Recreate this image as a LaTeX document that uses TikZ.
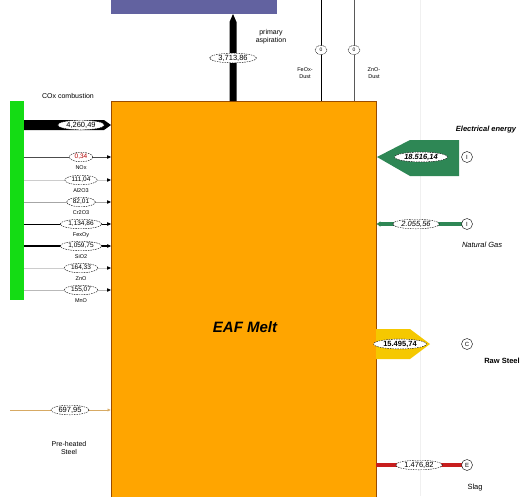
\documentclass[tikz,border=0pt]{standalone}
\usepackage{fontspec}
\setmainfont{Liberation Sans}
\usetikzlibrary{shapes.geometric,arrows.meta}
\definecolor{eaforange}{RGB}{255,165,0}
\definecolor{barblue}{RGB}{98,98,160}
\definecolor{bargreen}{RGB}{20,220,20}
\definecolor{elgreen}{RGB}{46,135,85}
\definecolor{steelyellow}{RGB}{245,200,0}
\definecolor{slagred}{RGB}{200,30,30}
\definecolor{pretan}{RGB}{215,170,100}
\begin{document}
\begin{tikzpicture}[x=1pt,y=-1pt,
  val/.style={ellipse, draw, dash pattern=on 1.5pt off 1pt, fill=white, inner xsep=2pt, inner ysep=0.3pt, minimum height=9.5pt, font=\fontsize{7.5}{8}\selectfont},
  tagc/.style={circle, draw, fill=white, inner sep=0pt, minimum size=11pt, font=\fontsize{6}{6}\selectfont},
  lbl/.style={font=\fontsize{6.5}{7.5}\selectfont, align=center, inner sep=0pt},
  inarrow/.style={-{Latex[length=3.5pt,width=3.5pt]}}]
\useasboundingbox (0,0) rectangle (524,496);
% faint grid line
\draw[gray!12] (420,0) -- (420,496);
% bars
\node[fill=barblue, minimum width=166pt, minimum height=14pt, anchor=north west, inner sep=0pt] (blue) at (111,0) {};
\node[fill=bargreen, minimum width=14pt, minimum height=199pt, anchor=north west, inner sep=0pt] (green) at (10,101) {};
\node[fill=eaforange, draw=orange!60!black, line width=0.4pt, minimum width=265pt, minimum height=400pt, anchor=north west, inner sep=0pt] (eaf) at (111,101) {};
\node[font=\fontsize{15}{16}\selectfont\bfseries\itshape] (eaflbl) at (245,327) {EAF Melt};
% primary aspiration
\fill (229.5,101) -- (229.5,22) -- (233,14) -- (236.5,22) -- (236.5,101) -- cycle;
\node[val] (v-asp) at (233,58) {3,713,86};
\node[lbl, font=\fontsize{7}{8}\selectfont] (l-asp) at (271,37) {primary\\aspiration};
% dust lines
\coordinate (fe-top) at (321,0);
\coordinate (zn-top) at (354,0);
\draw[line width=0.6pt] (fe-top) -- (eaf.north -| fe-top);
\draw[line width=0.6pt, gray!70!black] (zn-top) -- (eaf.north -| zn-top);
\node[tagc, ellipse, minimum width=12pt, minimum height=9pt, dash pattern=on 1pt off 0.7pt, font=\fontsize{5}{5}\selectfont] (t-fe) at (321,50) {0};
\node[tagc, ellipse, minimum width=12pt, minimum height=9pt, dash pattern=on 1pt off 0.7pt, font=\fontsize{5}{5}\selectfont] (t-zn) at (354,50) {0};
\node[lbl, font=\fontsize{5.5}{6.5}\selectfont] (l-fe) at (305,73) {FeOx-\\Dust};
\node[lbl, font=\fontsize{5.5}{6.5}\selectfont] (l-zn) at (374,73) {ZnO-\\Dust};
% COx combustion
\node[lbl, font=\fontsize{7}{8}\selectfont] (l-cox) at (68,96) {COx combustion};
\fill (24,120) -- (104,120) -- (111,125) -- (104,130) -- (24,130) -- cycle;
\node[val] (v-cox) at (81,125) {4,260,49};
% thin inputs
\foreach \y/\n/\c/\w/\nm in {157/NOx/gray!60!black/0.7/nox,
  180/Al2O3/gray!40/0.5/al,
  202/Cr2O3/gray!70/0.7/cr,
  224/FexOy/black/1.0/fe,
  246/SiO2/black/1.3/si,
  268/ZnO/gray!40/0.5/zn,
  290/MnO/gray!55/0.6/mn}{
  \coordinate (s-\nm) at (24,\y);
  \draw[inarrow, draw=\c, line width=\w pt] (s-\nm) -- (eaf.west |- s-\nm);
  \fill (eaf.west |- s-\nm) -- ++(-4,-1.8) -- ++(0,3.6) -- cycle;
  \node[lbl, font=\fontsize{5.5}{6.5}\selectfont] (l-\nm) at (81,\y+11) {\n};
}
\node[val, font=\fontsize{6.5}{7}\selectfont, text=red!70!black] (v-nox) at (81,157) {0,34};
\node[val, font=\fontsize{6.5}{7}\selectfont] (v-al) at (81,180) {111,04};
\node[val, font=\fontsize{6.5}{7}\selectfont] (v-cr) at (81,202) {82,01};
\node[val, font=\fontsize{6.5}{7}\selectfont] (v-fe) at (81,224) {1,134,86};
\node[val, font=\fontsize{6.5}{7}\selectfont] (v-si) at (81,246) {1,059,75};
\node[val, font=\fontsize{6.5}{7}\selectfont] (v-zn) at (81,268) {164,33};
\node[val, font=\fontsize{6.5}{7}\selectfont] (v-mn) at (81,290) {155,07};
% pre-heated steel
\coordinate (s-pre) at (10,410);
\draw[inarrow, draw=pretan, line width=0.9pt] (s-pre) -- (eaf.west |- s-pre);
\node[val] (v-pre) at (70,410) {697,95};
\node[lbl, font=\fontsize{7}{8}\selectfont] (l-pre) at (69,448) {Pre-heated\\Steel};
% electrical energy
\fill[elgreen] (377,157) -- (410,140) -- (459,140) -- (459,176) -- (410,176) -- cycle;
\node[val, font=\fontsize{7.5}{8}\selectfont\bfseries\itshape] (v-el) at (421,157) {18.516,14};
\node[tagc] (t-el) at (467,157) {I};
\node[lbl, font=\fontsize{7.5}{8}\selectfont\bfseries\itshape] (l-el) at (486,130) {Electrical energy};
% natural gas
\coordinate (s-gas) at (462,224);
\draw[elgreen, line width=3.5pt, -{Latex[length=4pt,width=6pt]}] (s-gas) -- (eaf.east |- s-gas);
\node[val, font=\fontsize{7.5}{8}\selectfont\itshape] (v-gas) at (416,224) {2.055,56};
\node[tagc] (t-gas) at (467,224) {I};
\node[lbl, font=\fontsize{7.5}{8}\selectfont\itshape] (l-gas) at (482,245) {Natural Gas};
% raw steel
\fill[steelyellow] (376,329) -- (410,329) -- (430,344) -- (410,359) -- (376,359) -- cycle;
\node[val, font=\fontsize{7.5}{8}\selectfont\bfseries] (v-raw) at (400,344) {15.495,74};
\node[tagc] (t-raw) at (467,344) {C};
\node[lbl, font=\fontsize{7.5}{8}\selectfont\bfseries] (l-raw) at (502,361) {Raw Steel};
% slag
\coordinate (e-slag) at (462,465);
\draw[slagred, line width=3.5pt] (eaf.east |- e-slag) -- (e-slag);
\node[val] (v-slag) at (419,465) {1.476,82};
\node[tagc] (t-slag) at (467,465) {E};
\node[lbl, font=\fontsize{7.5}{8}\selectfont] (l-slag) at (475,488) {Slag};
\end{tikzpicture}
\end{document}
